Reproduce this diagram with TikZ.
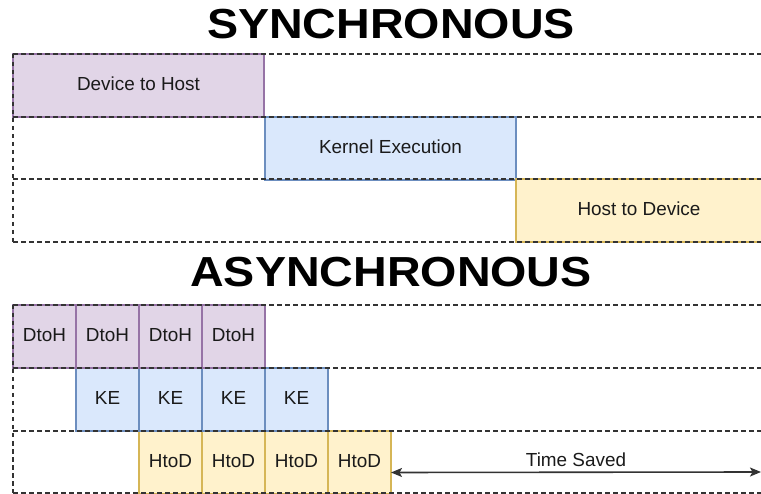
\documentclass[tikz,border=0pt]{standalone}
\usepackage{fontspec}
\usepackage{graphicx}
\setmainfont{Liberation Sans}
\usetikzlibrary{arrows.meta,calc}

\definecolor{dthFill}{HTML}{E1D5E7}
\definecolor{dthLine}{HTML}{9673A6}
\definecolor{keFill}{HTML}{DAE8FC}
\definecolor{keLine}{HTML}{6C8EBF}
\definecolor{htdFill}{HTML}{FFF2CC}
\definecolor{htdLine}{HTML}{D6B656}
\definecolor{laneLine}{HTML}{333333}
\definecolor{txt}{HTML}{1A1A1A}

% wide bold heading text
\newcommand{\wideheading}[1]{\scalebox{1.11}[1]{#1}}

\tikzset{
  block/.style={draw, line width=1.5pt, inner sep=0pt, outer sep=0pt,
    anchor=north west, text=txt, text height=14pt, text depth=4pt,
    font=\fontsize{18.9}{22}\selectfont},
  dth/.style={block, fill=dthFill, draw=dthLine},
  ke/.style={block, fill=keFill, draw=keLine},
  htd/.style={block, fill=htdFill, draw=htdLine},
  wide/.style={minimum width=251pt, minimum height=63pt},
  slot/.style={minimum width=63pt, minimum height=63pt},
  lane/.style={draw=laneLine, line width=1.5pt, dash pattern=on 4.5pt off 3.5pt},
  heading/.style={font=\fontsize{42}{48}\bfseries\selectfont, text=black, inner sep=0pt},
  gap/.style={draw=laneLine, line width=1.6pt,
    {Stealth[length=11pt,width=9pt,inset=2.5pt]}-{Stealth[length=11pt,width=9pt,inset=2.5pt]}},
}

\begin{document}
\begin{tikzpicture}[x=1pt,y=-1pt]
\useasboundingbox (0,0) rectangle (761,494);

% ---- synchronous: one long transfer per stage ----
\node[heading] (syncTitle) at (391,24) {\wideheading{SYNCHRONOUS}};
\node[dth, wide] (d2h) at (13,54) {Device to Host};
\node[ke, wide] (kern) at (265,117) {Kernel Execution};
\node[htd, wide, minimum width=260pt] (h2d) at (516,179) {};
\node[text=txt, text height=14pt, text depth=4pt, font=\fontsize{18.9}{22}\selectfont] (h2dLabel) at (639,210.5) {Host to Device};

% ---- asynchronous: four streams overlapping ----
\node[heading] (asyncTitle) at (391,272) {\wideheading{ASYNCHRONOUS}};
\foreach \i in {0,1,2,3}{
  \node[dth, slot] (dtoh\i) at (13+63*\i,305) {DtoH};
  \node[ke, slot] (ke\i) at (76+63*\i,368) {KE};
  \node[htd, slot] (htod\i) at (139+63*\i,431) {HtoD};
}

% lane outlines drawn over the blocks, each boundary once
\foreach \y in {54,117,179,242,305,368,431,493}{
  \draw[lane] (13,\y) -- (775,\y);
}
\draw[lane] (13,54) -- (13,242);
\draw[lane] (13,305) -- (13,493);

% time saved by overlapping
\coordinate (savedEnd) at (761,472);
\draw[gap] ($(htod3.east)+(0,10)$) -- (savedEnd)
  node[midway, above=1pt, text=txt, font=\fontsize{18.9}{22}\selectfont] (savedLabel) {Time Saved};
\end{tikzpicture}
\end{document}
